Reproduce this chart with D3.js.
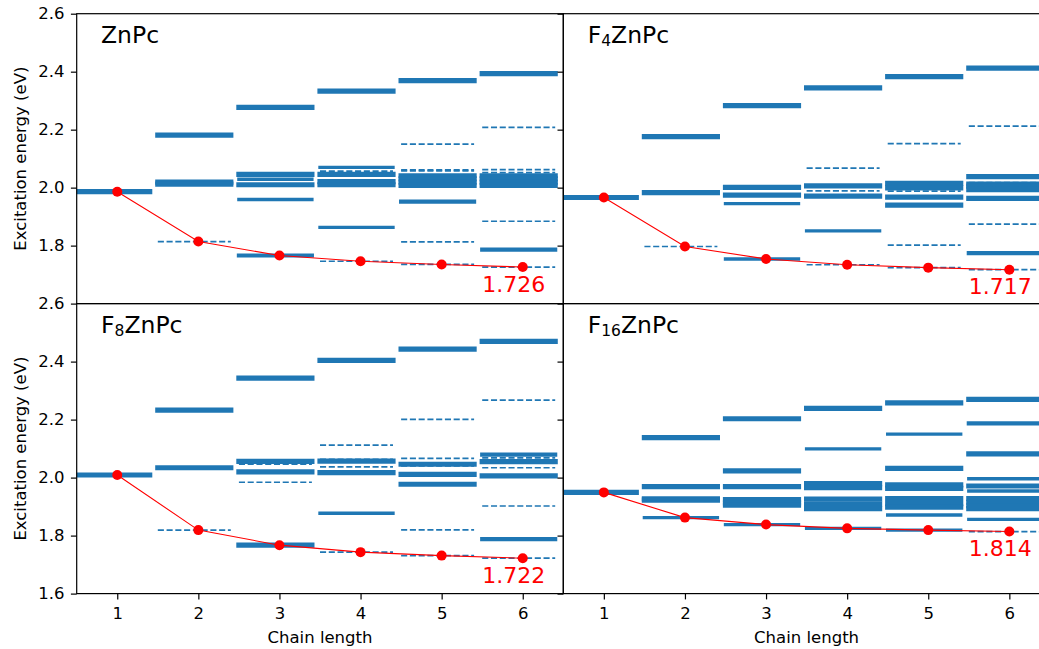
<!DOCTYPE html>
<html><head><meta charset="utf-8">
<script src="https://cdn.jsdelivr.net/npm/d3@7"></script>
<style>
body{margin:0;background:#fff}
svg text{font-family:"DejaVu Sans",sans-serif}
</style>
</head><body>
<svg id="c" width="1039" height="649"></svg>
<script>
// ---------------- data ----------------
const chainLengths = [1, 2, 3, 4, 5, 6];
const yTicksTop = [1.8, 2.0, 2.2, 2.4, 2.6];
const yTicksBottom = [1.6, 1.8, 2.0, 2.2, 2.4, 2.6];
const panelNames = ["ZnPc", "F4ZnPc", "F8ZnPc", "F16ZnPc"];
const panelSubscripts = ["", "4", "8", "16"];

// states: [chain length, excitation energy (eV), relative oscillator strength (0 = dark state)]
const ZnPc_states = [
  [1,1.986,1],
  [2,2.181,1],[2,2.019,1],[2,2.012,1],[2,1.814,0],
  [3,2.277,1],[3,2.046,1],[3,2.029,0.3],[3,2.010,1],[3,1.959,0.3],[3,1.766,0.6],
  [4,2.333,1],[4,2.070,0.3],[4,2.057,0],[4,2.046,1],[4,2.021,1],[4,2.010,1],[4,1.863,0.3],[4,1.746,0],
  [5,2.369,1],[5,2.150,0],[5,2.061,0],[5,2.058,0],[5,2.041,1],[5,2.030,1],[5,2.019,1],[5,2.008,1],[5,1.952,0.6],[5,1.813,0],[5,1.735,0],
  [6,2.393,1],[6,2.208,0],[6,2.062,0],[6,2.052,0],[6,2.041,1],[6,2.030,1],[6,2.019,1],[6,2.008,1],[6,1.884,0],[6,1.786,0.6],[6,1.726,0]
];
const ZnPc_lowest = [1.986, 1.814, 1.766, 1.746, 1.735, 1.726];

const F4ZnPc_states = [
  [1,1.966,1],
  [2,2.176,1],[2,1.983,1],[2,1.797,0],
  [3,2.283,1],[3,2.001,1],[3,1.974,1],[3,1.945,0.3],[3,1.754,0.3],
  [4,2.344,1],[4,2.067,0],[4,2.006,1],[4,1.989,0],[4,1.971,1],[4,1.851,0.3],[4,1.734,0],
  [5,2.383,1],[5,2.152,0],[5,2.015,1],[5,1.999,1],[5,1.988,0],[5,1.967,1],[5,1.940,1],[5,1.802,0],[5,1.724,0],
  [6,2.412,1],[6,2.212,0],[6,2.038,1],[6,2.017,0],[6,2.012,1],[6,2.005,1],[6,2.000,0],[6,1.993,1],[6,1.963,1],[6,1.874,0],[6,1.774,0.6],[6,1.717,0]
];
const F4ZnPc_lowest = [1.966, 1.797, 1.754, 1.734, 1.724, 1.717];

const F8ZnPc_states = [
  [1,2.009,1],
  [2,2.233,1],[2,2.034,1],[2,1.819,0],
  [3,2.343,1],[3,2.056,1],[3,2.046,0],[3,2.020,1],[3,1.984,0],[3,1.767,1],
  [4,2.404,1],[4,2.112,0],[4,2.063,0],[4,2.057,1],[4,2.037,0],[4,2.017,1],[4,1.877,0.3],[4,1.743,0],
  [5,2.443,1],[5,2.201,0],[5,2.066,0],[5,2.046,1],[5,2.040,0],[5,2.011,1],[5,1.977,1],[5,1.820,0],[5,1.731,0],
  [6,2.470,1],[6,2.267,0],[6,2.079,0.6],[6,2.068,0],[6,2.055,1],[6,2.034,0],[6,2.006,1],[6,1.902,0],[6,1.788,0.6],[6,1.722,0]
];
const F8ZnPc_lowest = [2.009, 1.819, 1.767, 1.743, 1.731, 1.722];

const F16ZnPc_states = [
  [1,1.949,1],
  [2,2.138,1],[2,1.969,1],[2,1.927,1],[2,1.922,1],[2,1.862,0.3],
  [3,2.203,1],[3,2.023,1],[3,1.969,1],[3,1.924,1],[3,1.913,1],[3,1.905,1],[3,1.838,0.3],
  [4,2.239,1],[4,2.099,0.3],[4,1.979,1],[4,1.965,1],[4,1.926,1],[4,1.909,1],[4,1.893,1],[4,1.825,0.3],
  [5,2.258,1],[5,2.150,0.3],[5,2.032,1],[5,1.975,1],[5,1.963,1],[5,1.928,1],[5,1.910,1],[5,1.898,1],[5,1.871,0.3],[5,1.819,0.3],
  [6,2.270,1],[6,2.187,0.6],[6,2.082,1],[6,1.996,0.3],[6,1.971,1],[6,1.954,0.3],[6,1.928,1],[6,1.915,1],[6,1.903,1],[6,1.893,1],[6,1.856,0.3],[6,1.814,0]
];
const F16ZnPc_lowest = [1.949, 1.862, 1.838, 1.825, 1.819, 1.814];

// ---------------- layout ----------------
const svg = d3.select("#c");
const colX = [[76.7, 563.3], [563.3, 1049.9]];
const rowY = [[13.7, 303.6], [303.6, 593.6]];
const blue = "#1f77b4";
const FS = 16.5;
const TICK = 5.8;

const panels = [
  {states: ZnPc_states,   lowest: ZnPc_lowest,   col: 0, row: 0},
  {states: F4ZnPc_states, lowest: F4ZnPc_lowest, col: 1, row: 0},
  {states: F8ZnPc_states, lowest: F8ZnPc_lowest, col: 0, row: 1},
  {states: F16ZnPc_states,lowest: F16ZnPc_lowest,col: 1, row: 1}
];
const widthScale = d3.scaleLinear().domain([0, 1]).range([2.6, 5.2]);

panels.forEach((p, i) => {
  const x = d3.scaleLinear().domain([0.5, 6.5]).range(colX[p.col]);
  const y = d3.scaleLinear().domain([1.6, 2.6]).range([rowY[p.row][1], rowY[p.row][0]]);
  const x0 = colX[p.col][0], x1 = colX[p.col][1], y0 = rowY[p.row][0], y1 = rowY[p.row][1];
  const clipId = "clip" + i;
  svg.append("clipPath").attr("id", clipId).append("rect")
    .attr("x", x0).attr("y", y0).attr("width", x1 - x0).attr("height", y1 - y0);
  const plot = svg.append("g").attr("clip-path", `url(#${clipId})`);

  plot.selectAll("line.state").data(p.states).join("line").attr("class", "state")
    .attr("x1", d => x(d[0] - 0.5)).attr("x2", d => x(d[0] + 0.4))
    .attr("y1", d => y(d[1])).attr("y2", d => y(d[1]))
    .attr("stroke", blue)
    .attr("stroke-width", d => d[2] > 0 ? widthScale(d[2]) : 1.7)
    .attr("stroke-linecap", d => d[2] > 0 ? "square" : "butt")
    .attr("stroke-dasharray", d => d[2] > 0 ? null : "6.1,2.66");

  const line = d3.line().x((d, j) => x(chainLengths[j])).y(d => y(d));
  plot.append("path").attr("d", line(p.lowest)).attr("fill", "none")
    .attr("stroke", "red").attr("stroke-width", 1.1);
  plot.selectAll("circle").data(p.lowest).join("circle")
    .attr("cx", (d, j) => x(chainLengths[j])).attr("cy", d => y(d))
    .attr("r", 5).attr("fill", "red");

  const last = p.lowest[p.lowest.length - 1];
  plot.append("text").attr("x", x(5.5)).attr("y", y(last - 0.085))
    .attr("fill", "red").attr("font-size", 22).text(last.toFixed(3));

  const lab = plot.append("text").attr("x", x(0.8)).attr("y", y(2.5)).attr("font-size", 23.5).attr("fill", "#000");
  if (panelSubscripts[i]) {
    lab.append("tspan").text("F");
    lab.append("tspan").attr("font-size", 15.5).attr("dy", 3.3).text(panelSubscripts[i]);
    lab.append("tspan").attr("dy", -3.3).text(panelNames[i].replace("F" + panelSubscripts[i], ""));
  } else {
    lab.text(panelNames[i]);
  }

  // y axis
  const yAxis = d3.axisLeft(y).tickValues(p.row === 0 ? yTicksTop : yTicksBottom)
    .tickSize(TICK).tickPadding(6.5).tickSizeOuter(0)
    .tickFormat(p.col === 0 ? d3.format(".1f") : () => "");
  const gy = svg.append("g").attr("transform", `translate(${x0},0)`).call(yAxis);
  gy.select(".domain").remove();
  gy.selectAll("line").attr("stroke", "#000").attr("stroke-width", 1.2);
  gy.selectAll("text").attr("font-size", FS).attr("fill", "#000").attr("font-family", "DejaVu Sans");

  // x axis (bottom row)
  if (p.row === 1) {
    const xAxis = d3.axisBottom(x).tickValues(chainLengths).tickSize(TICK).tickPadding(7.5)
      .tickSizeOuter(0).tickFormat(d3.format("d"));
    const gx = svg.append("g").attr("transform", `translate(0,${y1})`).call(xAxis);
    gx.select(".domain").remove();
    gx.selectAll("line").attr("stroke", "#000").attr("stroke-width", 1.2);
    gx.selectAll("text").attr("font-size", FS).attr("fill", "#000").attr("font-family", "DejaVu Sans");
    svg.append("text").attr("x", (x0 + x1) / 2).attr("y", 643).attr("text-anchor", "middle")
      .attr("font-size", FS).text("Chain length");
  }
  if (p.col === 0) {
    svg.append("text").attr("transform", `translate(25.5,${(y0 + y1) / 2}) rotate(-90)`)
      .attr("text-anchor", "middle").attr("font-size", FS).text("Excitation energy (eV)");
  }

  svg.append("rect").attr("x", x0).attr("y", y0).attr("width", x1 - x0).attr("height", y1 - y0)
    .attr("fill", "none").attr("stroke", "#000").attr("stroke-width", 1.2);
});
</script>
</body></html>
